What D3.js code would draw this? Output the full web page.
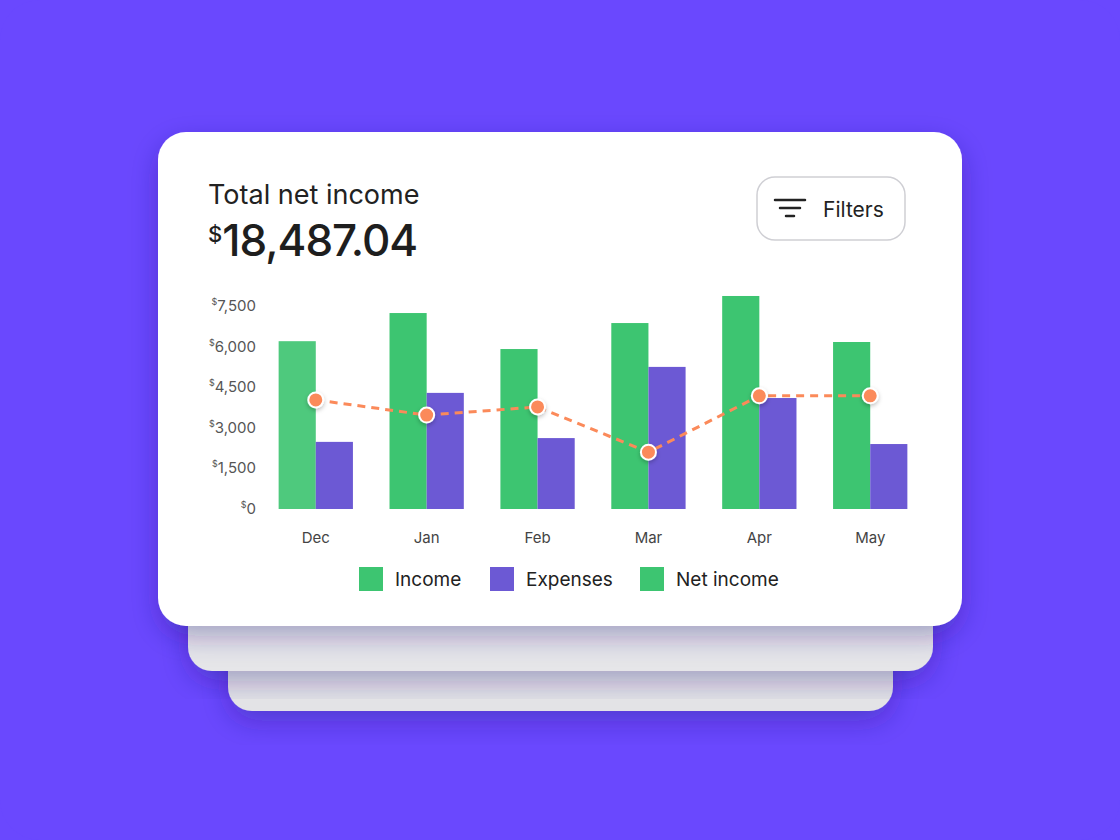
<!DOCTYPE html><html><head><meta charset="utf-8"><script src="https://cdn.jsdelivr.net/npm/d3@7"></script>
<style>body{margin:0;background:#6a48fe;font-family:Inter,"Noto Sans",sans-serif}</style></head><body><script>
const months=["Dec","Jan","Feb","Mar","Apr","May"];
const income=[6200,7240,5910,6870,7870,6170];
const expenses=[2480,4290,2620,5250,4100,2400];
const netIncome=[4030,3470,3770,2100,4180,4180];
const yTicks=[0,1500,3000,4500,6000,7500];
const W=1120,H=840;
const svg=d3.select("body").append("svg").attr("width",W).attr("height",H);
svg.append("rect").attr("width",W).attr("height",H).attr("rx",40).attr("fill","#6a48fe");
const defs=svg.append("defs");
const f=defs.append("filter").attr("id","sh").attr("x","-20%").attr("y","-20%").attr("width","140%").attr("height","150%");
f.append("feDropShadow").attr("dx",0).attr("dy",10).attr("stdDeviation",14).attr("flood-color","#2a1580").attr("flood-opacity",0.35);
const f2=defs.append("filter").attr("id","ds").attr("x","-50%").attr("y","-50%").attr("width","200%").attr("height","200%");
f2.append("feDropShadow").attr("dx",0).attr("dy",2).attr("stdDeviation",2).attr("flood-color","#000").attr("flood-opacity",0.25);
svg.append("rect").attr("x",228).attr("y",600).attr("width",665).attr("height",111).attr("rx",24).attr("fill","#e3e3e6").attr("filter","url(#sh)");
svg.append("rect").attr("x",188).attr("y",580).attr("width",745).attr("height",91).attr("rx",24).attr("fill","#e6e6e9").attr("filter","url(#sh)");
svg.append("rect").attr("x",158).attr("y",132).attr("width",804).attr("height",494).attr("rx",28).attr("fill","#fff").attr("filter","url(#sh)");
svg.append("text").attr("x",208).attr("y",204).attr("font-size",27).attr("fill","#222").text("Total net income");
const t=svg.append("text").attr("x",208).attr("y",256).attr("fill","#1e1e1e").attr("font-weight",500);
t.append("tspan").attr("font-size",22).attr("dy",-14).text("$");
t.append("tspan").attr("font-size",44).attr("dy",14).attr("letter-spacing",-1).text("18,487.04");
svg.append("rect").attr("x",757).attr("y",177).attr("width",148).attr("height",63).attr("rx",18).attr("fill","#fff").attr("stroke","#cfcfd4").attr("stroke-width",1.5);
[[775,805,200],[780,800,208],[786,794,216]].forEach(d=>svg.append("line").attr("x1",d[0]).attr("x2",d[1]).attr("y1",d[2]).attr("y2",d[2]).attr("stroke","#222").attr("stroke-width",2.5).attr("stroke-linecap","round"));
svg.append("text").attr("x",823).attr("y",217).attr("font-size",21).attr("fill","#222").text("Filters");
const x=d3.scaleBand().domain(months).range([262,924]).paddingInner(0.33).paddingOuter(0.15);
const y=d3.scaleLinear().domain([0,7500]).range([509,306]);
const sub=d3.scaleBand().domain(["i","e"]).range([0,x.bandwidth()]);
const ya=svg.append("g");
yTicks.forEach(v=>{const g=ya.append("text").attr("x",256).attr("y",y(v)+5).attr("text-anchor","end").attr("fill","#555").attr("font-size",15);
g.append("tspan").attr("font-size",9).attr("dy",-6).text("$");g.append("tspan").attr("dy",6).text(d3.format(",")(v));});
const bars=svg.append("g");
months.forEach((m,i)=>{
bars.append("rect").attr("x",x(m)).attr("y",y(income[i])).attr("width",sub.bandwidth()).attr("height",y(0)-y(income[i])).attr("fill",i==0?"#4ec97d":"#3dc571");
bars.append("rect").attr("x",x(m)+sub("e")).attr("y",y(expenses[i])).attr("width",sub.bandwidth()).attr("height",y(0)-y(expenses[i])).attr("fill","#6c59d4");
svg.append("text").attr("x",x(m)+x.bandwidth()/2).attr("y",543).attr("text-anchor","middle").attr("fill","#444").attr("font-size",15).text(m);
});
const cx=m=>x(m)+x.bandwidth()/2;
svg.append("path").datum(netIncome).attr("d",d3.line().x((d,i)=>cx(months[i])).y(d=>y(d))).attr("fill","none").attr("stroke","#fb8a5a").attr("stroke-width",3).attr("stroke-dasharray","8,6");
svg.selectAll("circle.p").data(netIncome).join("circle").attr("cx",(d,i)=>cx(months[i])).attr("cy",d=>y(d)).attr("r",7.5).attr("fill","#fb8a5a").attr("stroke","#fff").attr("stroke-width",2).attr("filter","url(#ds)");
const leg=[["Income","#3dc571",359],["Expenses","#6c59d4",490],["Net income","#3dc571",640]];
leg.forEach(l=>{svg.append("rect").attr("x",l[2]).attr("y",567).attr("width",24).attr("height",24).attr("fill",l[1]);
svg.append("text").attr("x",l[2]+36).attr("y",586).attr("font-size",19).attr("fill","#222").text(l[0]);});
</script></body></html>
